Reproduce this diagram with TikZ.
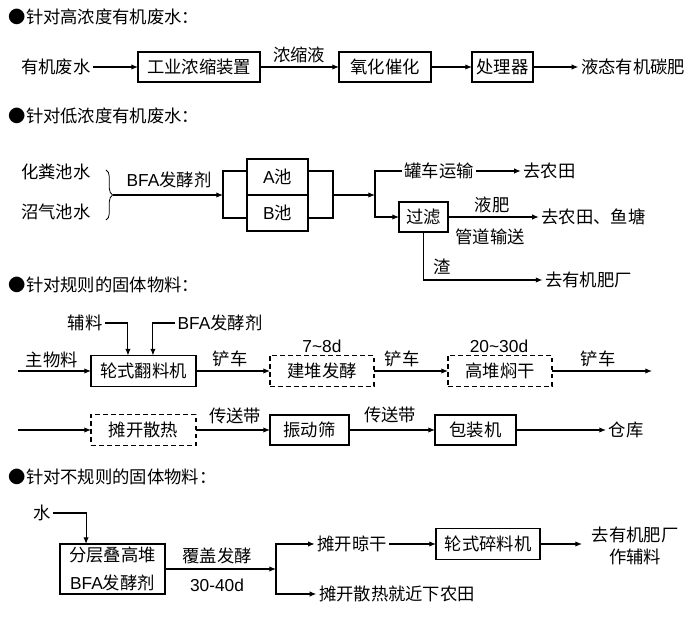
\documentclass[tikz,border=0pt]{standalone}
\usepackage{fontspec}
\setmainfont{Liberation Sans}
\newfontfamily\cjk{Noto Sans CJK SC}
\newfontfamily\lat{Liberation Sans}
\usetikzlibrary{arrows.meta,calc,decorations.pathreplacing}
\begin{document}
\begin{tikzpicture}[x=0.75pt,y=-0.75pt,
  every node/.style={font=\cjk\fontsize{13pt}{16pt}\selectfont},
  box/.style={draw, line width=0.8pt, minimum height=30*0.75pt, inner sep=1pt, outer sep=0pt},
  dbox/.style={box, dash pattern=on 3.5pt off 2.5pt},
  txt/.style={inner sep=2pt, outer sep=0pt},
  arr/.style={line width=0.8pt, -{Latex[length=5pt,width=4pt]}},
  ln/.style={line width=0.8pt}]
\useasboundingbox (0,0) rectangle (694,631);

% ---------- section 1
\node[txt,anchor=west] (h1) at (6,17) {●针对高浓度有机废水：};
\node[txt] (t11) at (56,67) {有机废水};
\node[box,minimum width=122*0.75pt] (b11) at (199,67) {工业浓缩装置};
\node[box,minimum width=92*0.75pt] (b12) at (385,67) {氧化催化};
\node[box,minimum width=61*0.75pt] (b13) at (502.5,67) {处理器};
\node[txt] (t12) at (633,67) {液态有机碳肥};
\node[txt] (l11) at (299,55) {浓缩液};
\draw[arr] (t11) -- (b11);
\draw[arr] (b11) -- (b12);
\draw[arr] (b12) -- (b13);
\draw[arr] (b13) -- (t12);

% ---------- section 2
\node[txt,anchor=west] (h2) at (6,116) {●针对低浓度有机废水：};
\node[txt] (t21) at (56,172) {化粪池水};
\node[txt] (t22) at (56,212) {沼气池水};
\coordinate (br1) at (106,170);
\coordinate (br2) at (106,220);
\draw[line width=0.6pt, decorate, decoration={brace, amplitude=5pt}] (br1) -- (br2);
\coordinate (brc) at (113,195);
\node[txt] (l21) at (169,180) {{\lat BFA}发酵剂};
\coordinate (jL) at (223,195);
\draw[arr] (brc) -- (jL);
\node[box, minimum width=61*0.75pt, minimum height=36*0.75pt] (nA) at (277.5,177) {{\lat A}池};
\node[box, minimum width=61*0.75pt, minimum height=36*0.75pt] (nB) at (277.5,213) {{\lat B}池};
\coordinate (aL) at (247,171);
\coordinate (bL) at (247,218);
\draw[ln] (aL) -| (jL) |- (bL);
\coordinate (aR) at (308,171);
\coordinate (bR) at (308,218);
\coordinate (jR) at (333,195);
\draw[ln] (aR) -| (jR) |- (bR);
\coordinate (jS) at (375,195);
\draw[arr] (jR) -- (jS);
\node[txt] (t23) at (439,171) {罐车运输};
\node[box, minimum width=49*0.75pt] (gl) at (423.5,217) {过滤};
\draw[arr] (t23) -| (jS) |- (gl);
\node[txt] (t24) at (549.5,171) {去农田};
\draw[arr] (t23) -- (t24);
\node[txt] (t25) at (593.5,217) {去农田、鱼塘};
\draw[arr] (gl) -- (t25);
\node[txt] (l22) at (492,205) {液肥};
\node[txt] (l23) at (490,237) {管道输送};
\node[txt] (t26) at (588.5,280) {去有机肥厂};
\draw[arr] (gl) |- (t26);
\node[txt] (l24) at (442,267) {渣};

% ---------- section 3
\node[txt,anchor=west] (h3) at (6,285) {●针对规则的固体物料：};
\node[txt] (t31) at (85,323) {辅料};
\node[txt] (t32) at (220,323) {{\lat BFA}发酵剂};
\node[box, minimum width=105*0.75pt, minimum height=31*0.75pt] (b31) at (143.5,371) {轮式翻料机};
\coordinate (p1) at ($(b31.north west)!0.352!(b31.north east)$);
\coordinate (p2) at ($(b31.north west)!0.59!(b31.north east)$);
\draw[arr] (t31) -| (p1);
\draw[arr] (t32) -| (p2);
\coordinate (s31) at (18,371);
\draw[arr] (s31) -- (b31);
\node[txt] (l31) at (52,360) {主物料};
\node[dbox, minimum width=104*0.75pt, minimum height=31*0.75pt] (b32) at (322,371) {建堆发酵};
\node[dbox, minimum width=104*0.75pt, minimum height=31*0.75pt] (b33) at (500,371) {高堆焖干};
\coordinate (e31) at (652,371);
\draw[arr] (b31) -- (b32);
\draw[arr] (b32) -- (b33);
\draw[arr] (b33) -- (e31);
\node[txt] (l32) at (230,359) {铲车};
\node[txt] (l33) at (402,359) {铲车};
\node[txt] (l34) at (598,359) {铲车};
\node[txt] (l35) at (322,346) {\lat 7\textasciitilde 8d};
\node[txt] (l36) at (499,346) {\lat 20\textasciitilde 30d};

\coordinate (s32) at (18,430);
\node[dbox, minimum width=105*0.75pt, minimum height=31*0.75pt] (b34) at (143.5,430) {摊开散热};
\node[box, minimum width=79*0.75pt] (b35) at (309.5,430) {振动筛};
\node[box, minimum width=81*0.75pt] (b36) at (475.5,430) {包装机};
\node[txt] (t33) at (626,430) {仓库};
\draw[arr] (s32) -- (b34);
\draw[arr] (b34) -- (b35);
\draw[arr] (b35) -- (b36);
\draw[arr] (b36) -- (t33);
\node[txt] (l37) at (235,416) {传送带};
\node[txt] (l38) at (390,415) {传送带};

% ---------- section 4
\node[txt,anchor=west] (h4) at (6,477) {●针对不规则的固体物料：};
\node[txt] (t41) at (42,513) {水};
\node[box, minimum width=105*0.75pt, minimum height=50*0.75pt, align=center,
      font=\cjk\fontsize{13pt}{21pt}\selectfont] (b41) at (112.5,569) {分层叠高堆\\{\lat BFA}发酵剂};
\coordinate (p3) at ($(b41.north west)!0.248!(b41.north east)$);
\draw[arr] (t41) -| (p3);
\coordinate (j4) at (276,569);
\draw[arr] (b41) -- (j4);
\node[txt] (l41) at (217,556) {覆盖发酵};
\node[txt] (l42) at (217,585) {\lat 30-40d};
\node[txt] (t42) at (352,544) {摊开晾干};
\node[txt] (t43) at (397,594) {摊开散热就近下农田};
\draw[arr] (j4) |- (t42);
\draw[arr] (j4) |- (t43);
\node[box, minimum width=104*0.75pt, minimum height=31*0.75pt] (b42) at (488,544) {轮式碎料机};
\draw[arr] (t42) -- (b42);
\node[txt, align=center] (t44) at (635,546) {去有机肥厂\\作辅料};
\coordinate (e4) at (582,544);
\draw[arr] (b42) -- (e4);
\end{tikzpicture}
\end{document}
